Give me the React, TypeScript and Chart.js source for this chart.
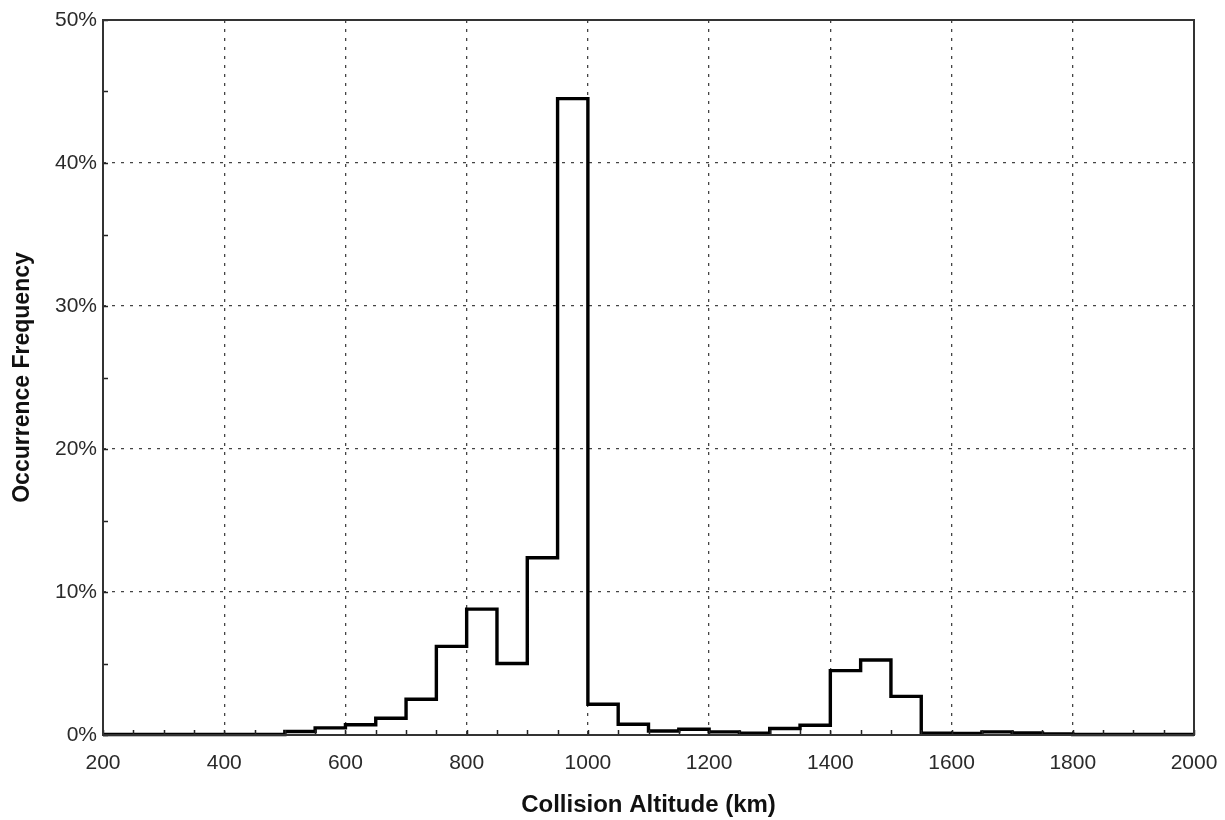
import React, { useEffect, useRef } from "react";
import { Chart, registerables } from "chart.js";

Chart.register(...registerables);

// Lower edges of the 50 km altitude bins (km)
const binEdges: number[] = [
  200, 250, 300, 350, 400, 450, 500, 550, 600, 650, 700, 750,
  800, 850, 900, 950, 1000, 1050, 1100, 1150, 1200, 1250, 1300, 1350,
  1400, 1450, 1500, 1550, 1600, 1650, 1700, 1750, 1800, 1850, 1900, 1950,
];
const upperEdge = 2000;

// Occurrence frequency per bin (%)
const frequency: number[] = [
  0.03, 0.03, 0.03, 0.03, 0.03, 0.03, 0.25, 0.5, 0.72, 1.17, 2.5, 6.2,
  8.8, 5.0, 12.4, 44.5, 2.15, 0.75, 0.28, 0.4, 0.22, 0.12, 0.45, 0.68,
  4.5, 5.25, 2.7, 0.12, 0.1, 0.22, 0.15, 0.08, 0.03, 0.03, 0.03, 0.03,
];

const xTickValues: number[] = [200, 400, 600, 800, 1000, 1200, 1400, 1600, 1800, 2000];
const yTickValues: number[] = [0, 10, 20, 30, 40, 50];
const xMinorStep = 50;
const yMinorStep = 5;

const xTitle = "Collision Altitude (km)";
const yTitle = "Occurrence Frequency";

const framePlugin = {
  id: "frameAndMinorTicks",
  afterDraw(chart: any) {
    const { ctx, chartArea } = chart;
    const xs = chart.scales.x;
    const ys = chart.scales.y;
    ctx.save();
    ctx.setLineDash([]);
    ctx.strokeStyle = "#222";
    ctx.lineWidth = 1.5;
    ctx.beginPath();
    for (let v = xs.min; v <= xs.max; v += xMinorStep) {
      const px = Math.round(xs.getPixelForValue(v)) + 0.5;
      ctx.moveTo(px, chartArea.bottom);
      ctx.lineTo(px, chartArea.bottom - 5);
    }
    for (let v = ys.min; v <= ys.max; v += yMinorStep) {
      const py = Math.round(ys.getPixelForValue(v)) + 0.5;
      ctx.moveTo(chartArea.left, py);
      ctx.lineTo(chartArea.left + 5, py);
    }
    ctx.stroke();
    ctx.lineWidth = 2;
    ctx.strokeStyle = "#333";
    ctx.strokeRect(
      chartArea.left,
      chartArea.top,
      chartArea.right - chartArea.left,
      chartArea.bottom - chartArea.top
    );
    ctx.restore();
  },
};

export default function App() {
  const canvasRef = useRef<HTMLCanvasElement | null>(null);

  useEffect(() => {
    if (!canvasRef.current) return;
    const points = binEdges.map((e, i) => ({ x: e, y: frequency[i] }));
    points.push({ x: upperEdge, y: frequency[frequency.length - 1] });

    const tickFont = { family: "'Liberation Sans', Arial, sans-serif", size: 21 };
    const titleFont = { family: "'Liberation Sans', Arial, sans-serif", size: 24, weight: "bold" as const };
    const yTitleFont = { family: "'Liberation Sans', Arial, sans-serif", size: 23, weight: "bold" as const };

    const chart = new Chart(canvasRef.current, {
      type: "line",
      data: {
        datasets: [
          {
            data: points,
            stepped: "before",
            borderColor: "#000",
            borderWidth: 3.4,
            pointRadius: 0,
            fill: false,
            clip: false as any,
          },
        ],
      },
      options: {
        animation: false,
        responsive: true,
        maintainAspectRatio: false,
        devicePixelRatio: 1,
        layout: { padding: { left: 0, right: 31, top: 20, bottom: 0 } },
        plugins: { legend: { display: false }, tooltip: { enabled: false } },
        scales: {
          x: {
            type: "linear",
            min: 200,
            max: 2000,
            afterBuildTicks: (scale: any) => {
              scale.ticks = xTickValues.map((v) => ({ value: v }));
            },
            afterFit: (scale: any) => {
              scale.height = 85;
              scale.paddingRight = 0;
              scale.paddingLeft = 0;
            },
            ticks: {
              color: "#2a2a2a",
              font: tickFont,
              padding: 16,
              maxRotation: 0,
              autoSkip: false,
              callback: (v: any) => String(v),
            },
            grid: {
              color: "#444",
              lineWidth: 1.3,
              drawTicks: false,
            },
            border: { display: false, dash: [3, 6] },
            title: {
              display: true,
              text: xTitle,
              color: "#111",
              font: titleFont,
              padding: { top: 0, bottom: 0 },
            },
          },
          y: {
            min: 0,
            max: 50,
            afterBuildTicks: (scale: any) => {
              scale.ticks = yTickValues.map((v) => ({ value: v }));
            },
            afterFit: (scale: any) => {
              scale.width = 103;
              scale.paddingTop = 0;
              scale.paddingBottom = 0;
            },
            ticks: {
              color: "#2a2a2a",
              font: tickFont,
              padding: 6,
              callback: (v: any) => v + "%",
            },
            grid: {
              color: "#444",
              lineWidth: 1.3,
              drawTicks: false,
            },
            border: { display: false, dash: [3, 6] },
            title: {
              display: true,
              text: yTitle,
              color: "#111",
              font: yTitleFont,
              padding: { top: 9, bottom: 0 },
            },
          },
        },
      },
      plugins: [framePlugin],
    });
    return () => chart.destroy();
  }, []);

  return (
    <div style={{ position: "absolute", left: 0, top: 0, width: 1225, height: 820, background: "#fff" }}>
      <canvas ref={canvasRef} />
    </div>
  );
}
